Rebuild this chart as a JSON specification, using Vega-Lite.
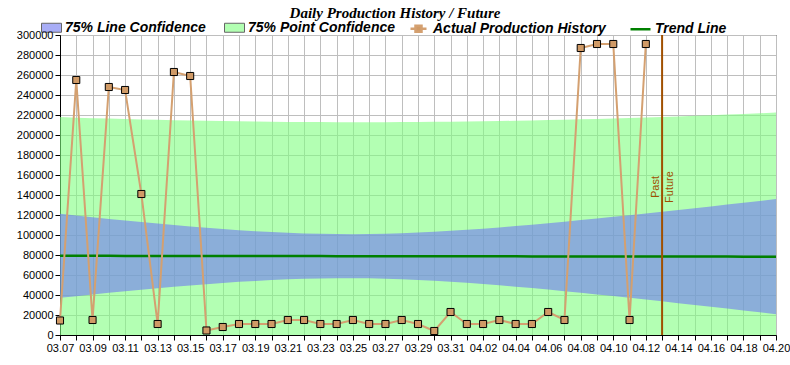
{
  "$schema": "https://vega.github.io/schema/vega-lite/v6.json",
  "autosize": {"type": "none"},
  "width": 716,
  "height": 300,
  "padding": {"left": 60, "top": 35, "right": 14, "bottom": 30},
  "background": "white",
  "title": {
    "text": "Daily Production History / Future",
    "font": "Liberation Serif",
    "fontSize": 15,
    "fontStyle": "italic",
    "fontWeight": "bold",
    "color": "black",
    "anchor": "middle",
    "offset": -4,
    "dx": -23
  },
  "config": {
    "view": {"stroke": "black", "strokeWidth": 1},
    "axis": {
      "labelFont": "Liberation Sans",
      "labelFontSize": 11,
      "labelColor": "black",
      "tickColor": "black",
      "tickSize": 5,
      "labelPadding": 2,
      "domainColor": "black",
      "gridColor": "#BEBEBE",
      "gridOpacity": 1,
      "gridWidth": 1,
      "labelOverlap": false,
      "labelFlush": false,
      "labelBound": false,
      "title": null
    },
    "legend": {
      "title": null,
      "orient": "none",
      "direction": "horizontal",
      "symbolSize": 400,
      "labelFont": "Liberation Sans",
      "labelFontSize": 14,
      "labelFontStyle": "italic",
      "labelFontWeight": "bold",
      "labelColor": "black",
      "labelOffset": 3,
      "labelLimit": 400
    }
  },
  "datasets": {
    "bands": [
      {"date": "2024-03-07", "trend": 79200, "lineLo": 37180, "lineHi": 121220, "pointHi": 217890},
      {"date": "2024-03-08", "trend": 79180, "lineLo": 38870, "lineHi": 119490, "pointHi": 217360},
      {"date": "2024-03-09", "trend": 79160, "lineLo": 40530, "lineHi": 117790, "pointHi": 216860},
      {"date": "2024-03-10", "trend": 79140, "lineLo": 42160, "lineHi": 116120, "pointHi": 216390},
      {"date": "2024-03-11", "trend": 79120, "lineLo": 43740, "lineHi": 114500, "pointHi": 215950},
      {"date": "2024-03-12", "trend": 79100, "lineLo": 45280, "lineHi": 112920, "pointHi": 215530},
      {"date": "2024-03-13", "trend": 79080, "lineLo": 46770, "lineHi": 111390, "pointHi": 215150},
      {"date": "2024-03-14", "trend": 79060, "lineLo": 48200, "lineHi": 109920, "pointHi": 214790},
      {"date": "2024-03-15", "trend": 79040, "lineLo": 49560, "lineHi": 108520, "pointHi": 214460},
      {"date": "2024-03-16", "trend": 79020, "lineLo": 50850, "lineHi": 107190, "pointHi": 214160},
      {"date": "2024-03-17", "trend": 79000, "lineLo": 52050, "lineHi": 105950, "pointHi": 213890},
      {"date": "2024-03-18", "trend": 78980, "lineLo": 53140, "lineHi": 104820, "pointHi": 213660},
      {"date": "2024-03-19", "trend": 78960, "lineLo": 54120, "lineHi": 103800, "pointHi": 213450},
      {"date": "2024-03-20", "trend": 78940, "lineLo": 54980, "lineHi": 102900, "pointHi": 213270},
      {"date": "2024-03-21", "trend": 78920, "lineLo": 55680, "lineHi": 102160, "pointHi": 213120},
      {"date": "2024-03-22", "trend": 78900, "lineLo": 56230, "lineHi": 101570, "pointHi": 213000},
      {"date": "2024-03-23", "trend": 78880, "lineLo": 56610, "lineHi": 101150, "pointHi": 212920},
      {"date": "2024-03-24", "trend": 78860, "lineLo": 56810, "lineHi": 100910, "pointHi": 212860},
      {"date": "2024-03-25", "trend": 78840, "lineLo": 56830, "lineHi": 100850, "pointHi": 212830},
      {"date": "2024-03-26", "trend": 78820, "lineLo": 56660, "lineHi": 100980, "pointHi": 212840},
      {"date": "2024-03-27", "trend": 78800, "lineLo": 56310, "lineHi": 101290, "pointHi": 212870},
      {"date": "2024-03-28", "trend": 78780, "lineLo": 55790, "lineHi": 101770, "pointHi": 212940},
      {"date": "2024-03-29", "trend": 78760, "lineLo": 55100, "lineHi": 102420, "pointHi": 213030},
      {"date": "2024-03-30", "trend": 78740, "lineLo": 54270, "lineHi": 103210, "pointHi": 213160},
      {"date": "2024-03-31", "trend": 78720, "lineLo": 53300, "lineHi": 104140, "pointHi": 213320},
      {"date": "2024-04-01", "trend": 78700, "lineLo": 52200, "lineHi": 105200, "pointHi": 213500},
      {"date": "2024-04-02", "trend": 78680, "lineLo": 51010, "lineHi": 106350, "pointHi": 213720},
      {"date": "2024-04-03", "trend": 78660, "lineLo": 49720, "lineHi": 107600, "pointHi": 213970},
      {"date": "2024-04-04", "trend": 78640, "lineLo": 48340, "lineHi": 108940, "pointHi": 214240},
      {"date": "2024-04-05", "trend": 78620, "lineLo": 46900, "lineHi": 110340, "pointHi": 214550},
      {"date": "2024-04-06", "trend": 78600, "lineLo": 45390, "lineHi": 111810, "pointHi": 214880},
      {"date": "2024-04-07", "trend": 78580, "lineLo": 43830, "lineHi": 113330, "pointHi": 215250},
      {"date": "2024-04-08", "trend": 78560, "lineLo": 42220, "lineHi": 114900, "pointHi": 215640},
      {"date": "2024-04-09", "trend": 78540, "lineLo": 40570, "lineHi": 116510, "pointHi": 216060},
      {"date": "2024-04-10", "trend": 78520, "lineLo": 38890, "lineHi": 118150, "pointHi": 216510},
      {"date": "2024-04-11", "trend": 78500, "lineLo": 37170, "lineHi": 119830, "pointHi": 216980},
      {"date": "2024-04-12", "trend": 78480, "lineLo": 35430, "lineHi": 121530, "pointHi": 217490},
      {"date": "2024-04-13", "trend": 78460, "lineLo": 33650, "lineHi": 123270, "pointHi": 218020},
      {"date": "2024-04-14", "trend": 78440, "lineLo": 31860, "lineHi": 125020, "pointHi": 218580},
      {"date": "2024-04-15", "trend": 78420, "lineLo": 30050, "lineHi": 126790, "pointHi": 219170},
      {"date": "2024-04-16", "trend": 78400, "lineLo": 28220, "lineHi": 128580, "pointHi": 219780},
      {"date": "2024-04-17", "trend": 78380, "lineLo": 26380, "lineHi": 130380, "pointHi": 220420},
      {"date": "2024-04-18", "trend": 78360, "lineLo": 24520, "lineHi": 132200, "pointHi": 221080},
      {"date": "2024-04-19", "trend": 78340, "lineLo": 22640, "lineHi": 134040, "pointHi": 221770},
      {"date": "2024-04-20", "trend": 78320, "lineLo": 20760, "lineHi": 135880, "pointHi": 222480}
    ],
    "actual": [
      {"date": "2024-03-07", "production": 14500},
      {"date": "2024-03-08", "production": 255000},
      {"date": "2024-03-09", "production": 15000},
      {"date": "2024-03-10", "production": 248000},
      {"date": "2024-03-11", "production": 245000},
      {"date": "2024-03-12", "production": 141000},
      {"date": "2024-03-13", "production": 11000},
      {"date": "2024-03-14", "production": 263000},
      {"date": "2024-03-15", "production": 259000},
      {"date": "2024-03-16", "production": 4500},
      {"date": "2024-03-17", "production": 8000},
      {"date": "2024-03-18", "production": 11000},
      {"date": "2024-03-19", "production": 11000},
      {"date": "2024-03-20", "production": 11000},
      {"date": "2024-03-21", "production": 15000},
      {"date": "2024-03-22", "production": 15000},
      {"date": "2024-03-23", "production": 11000},
      {"date": "2024-03-24", "production": 11000},
      {"date": "2024-03-25", "production": 15000},
      {"date": "2024-03-26", "production": 11000},
      {"date": "2024-03-27", "production": 11000},
      {"date": "2024-03-28", "production": 15000},
      {"date": "2024-03-29", "production": 11000},
      {"date": "2024-03-30", "production": 4000},
      {"date": "2024-03-31", "production": 23000},
      {"date": "2024-04-01", "production": 11000},
      {"date": "2024-04-02", "production": 11000},
      {"date": "2024-04-03", "production": 15000},
      {"date": "2024-04-04", "production": 11000},
      {"date": "2024-04-05", "production": 11000},
      {"date": "2024-04-06", "production": 23000},
      {"date": "2024-04-07", "production": 15000},
      {"date": "2024-04-08", "production": 287000},
      {"date": "2024-04-09", "production": 291000},
      {"date": "2024-04-10", "production": 291000},
      {"date": "2024-04-11", "production": 15000},
      {"date": "2024-04-12", "production": 291000}
    ],
    "marker": [
      {"date": "2024-04-13", "level": 148000, "past": "Past", "future": "Future"}
    ]
  },
  "encoding": {
    "x": {
      "field": "date",
      "type": "temporal",
      "scale": {
        "type": "utc",
        "domain": [
          {"year": 2024, "month": 3, "date": 7, "utc": true},
          {"year": 2024, "month": 4, "date": 20, "utc": true}
        ],
        "nice": false
      },
      "axis": {
        "tickCount": {"interval": "day", "step": 1},
        "labelExpr": "round((datum.value - utc(2024, 2, 7)) / 86400000) % 2 === 0 ? utcFormat(datum.value, '%m.%d') : ''",
        "labelAngle": 0,
        "labelOverlap": false,
        "labelFlush": false,
        "grid": true
      }
    }
  },
  "layer": [
    {
      "data": {"name": "bands"},
      "mark": {"type": "area", "opacity": 0.6},
      "encoding": {
        "y": {
          "field": "pointHi",
          "type": "quantitative",
          "scale": {"domain": [0, 300000], "nice": false, "zero": true},
          "axis": {"values": [0, 20000, 40000, 60000, 80000, 100000, 120000, 140000, 160000, 180000, 200000, 220000, 240000, 260000, 280000, 300000], "tickCount": 20, "format": "d", "grid": true, "labelOverlap": false, "labelBound": false, "labelFlush": false}
        },
        "y2": {"datum": 0},
        "fill": {
          "datum": "75% Point Confidence",
          "scale": {
            "domain": ["75% Line Confidence", "75% Point Confidence"],
            "range": ["#7078F1", "#80FF80"]
          },
          "legend": {
            "legendX": -19,
            "legendY": -18,
            "columns": 2,
            "columnPadding": 16,
            "symbolType": "M-1,-0.45H1V0.45H-1Z",
            "symbolOpacity": 0.6,
            "symbolStrokeColor": "black",
            "symbolStrokeWidth": 1
          }
        }
      }
    },
    {
      "data": {"name": "bands"},
      "mark": {"type": "area", "opacity": 0.6},
      "encoding": {
        "y": {"field": "lineHi", "type": "quantitative"},
        "y2": {"field": "lineLo"},
        "fill": {
          "datum": "75% Line Confidence",
          "legend": {
            "legendX": -19,
            "legendY": -18,
            "columns": 2,
            "columnPadding": 16,
            "symbolType": "M-1,-0.45H1V0.45H-1Z",
            "symbolOpacity": 0.6,
            "symbolStrokeColor": "black",
            "symbolStrokeWidth": 1
          }
        }
      }
    },
    {
      "data": {"name": "bands"},
      "mark": {"type": "line", "strokeWidth": 2.5},
      "encoding": {
        "y": {"field": "trend", "type": "quantitative"},
        "stroke": {
          "datum": "Trend Line",
          "scale": {
            "domain": ["Actual Production History", "Trend Line"],
            "range": ["#D4A070", "#008000"]
          },
          "legend": {
            "legendX": 347,
            "legendY": -18,
            "columns": 2,
            "columnPadding": 19,
            "symbolType": "stroke",
            "symbolStrokeWidth": 2.5,
            "encode": {
              "symbols": {
                "update": {
                  "shape": {"signal": "datum.value === 'Trend Line' ? 'M-1,0H1' : 'M-0.8,0H-0.3M0.3,0H0.8M-0.3,-0.3H0.3V0.3H-0.3Z'"},
                  "fill": {"signal": "datum.value === 'Trend Line' ? 'transparent' : '#D09A66'"}
                }
              }
            }
          }
        }
      }
    },
    {
      "data": {"name": "actual"},
      "mark": {"type": "line", "strokeWidth": 2},
      "encoding": {
        "y": {"field": "production", "type": "quantitative"},
        "stroke": {
          "datum": "Actual Production History",
          "legend": {
            "legendX": 347,
            "legendY": -18,
            "columns": 2,
            "columnPadding": 19,
            "symbolType": "stroke",
            "symbolStrokeWidth": 2.5,
            "encode": {
              "symbols": {
                "update": {
                  "shape": {"signal": "datum.value === 'Trend Line' ? 'M-1,0H1' : 'M-0.8,0H-0.3M0.3,0H0.8M-0.3,-0.3H0.3V0.3H-0.3Z'"},
                  "fill": {"signal": "datum.value === 'Trend Line' ? 'transparent' : '#D09A66'"}
                }
              }
            }
          }
        }
      }
    },
    {
      "data": {"name": "actual"},
      "mark": {"type": "point", "shape": "square", "filled": true, "fill": "#D09A66", "stroke": "black", "strokeWidth": 1, "size": 50, "opacity": 1},
      "encoding": {
        "y": {"field": "production", "type": "quantitative"}
      }
    },
    {
      "data": {"name": "marker"},
      "mark": {"type": "rule", "color": "#A05000", "strokeWidth": 2},
      "encoding": {}
    },
    {
      "data": {"name": "marker"},
      "mark": {"type": "text", "angle": 270, "align": "center", "baseline": "bottom", "font": "Liberation Sans", "fontSize": 11, "color": "#A05000", "dy": -1},
      "encoding": {
        "y": {"field": "level", "type": "quantitative"},
        "text": {"field": "past"}
      }
    },
    {
      "data": {"name": "marker"},
      "mark": {"type": "text", "angle": 270, "align": "center", "baseline": "top", "font": "Liberation Sans", "fontSize": 11, "color": "#A05000", "dy": 2},
      "encoding": {
        "y": {"field": "level", "type": "quantitative"},
        "text": {"field": "future"}
      }
    }
  ]
}
